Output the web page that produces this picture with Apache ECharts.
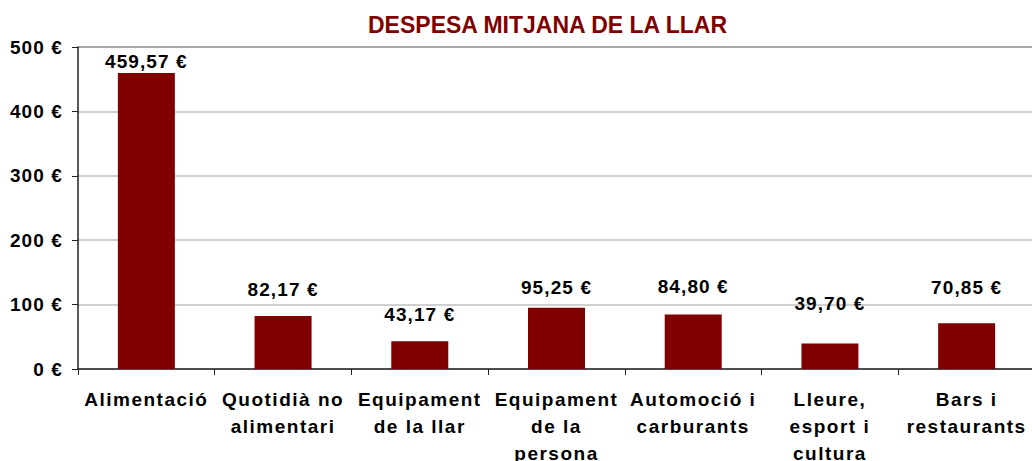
<!DOCTYPE html>
<html>
<head>
<meta charset="utf-8">
<script src="https://cdn.jsdelivr.net/npm/echarts@6/dist/echarts.min.js"></script>
<style>
    html, body { margin: 0; padding: 0; background: #fff; }
    #main { width: 1032px; height: 461px; }
    /* Excel-style wide spacing on the axis and value labels, not on the title */
    #main text { letter-spacing: 1.1px; }
    #main text[style*="sans-serif, Arial"] { letter-spacing: 1.5px; }
    #main text[fill="#800000"], #main text[style*="23px"] { letter-spacing: 0; }
</style>
</head>
<body>
<div id="main"></div>
<script>
var categories = ['Alimentació', 'Quotidià no\nalimentari', 'Equipament\nde la llar', 'Equipament\nde la\npersona',
    'Automoció i\ncarburants', 'Lleure,\nesport i\ncultura', 'Bars i\nrestaurants'];
var values = [459.57, 82.17, 43.17, 95.25, 84.80, 39.70, 70.85];
var yTicks = { min: 0, max: 500, step: 100 };

// hand-placed label gaps, like the original sheet
var labelGaps = [2, 17, 17, 11, 18, 30, 26];

var font = '"Liberation Sans", Arial, sans-serif';
var catFont = '"Liberation Sans", sans-serif, Arial';

function euro(v) {
    return v.toFixed(2).replace('.', ',') + ' €';
}

var myChart = echarts.init(document.getElementById('main'), null, { renderer: 'svg' });
myChart.setOption({
    backgroundColor: '#fff',
    animation: false,
    title: {
        text: 'DESPESA MITJANA DE LA LLAR',
        left: 363,
        top: 8,
        textStyle: { color: '#800000', fontSize: 23, fontWeight: 'bold', fontFamily: font }
    },
    grid: { left: 78, top: 47, width: 957, bottom: 92, outerBoundsMode: 'none' },
    xAxis: {
        type: 'category',
        data: categories,
        axisLine: { lineStyle: { color: '#222', width: 1.5 } },
        axisTick: { show: true, length: 6, lineStyle: { color: '#222' } },
        axisLabel: {
            interval: 0,
            margin: 17,
            color: '#000',
            fontSize: 19,
            fontWeight: 'bold',
            fontFamily: catFont,
            lineHeight: 27
        }
    },
    yAxis: {
        type: 'value',
        min: yTicks.min,
        max: yTicks.max,
        interval: yTicks.step,
        axisLine: { show: true, lineStyle: { color: '#222', width: 1.5 } },
        axisTick: { show: true, length: 6, lineStyle: { color: '#222' } },
        splitLine: {
            lineStyle: { color: ['#c0c0c0', '#c0c0c0', '#c0c0c0', '#c0c0c0', '#c0c0c0', '#8c8c8c'], width: 1.5 }
        },
        axisLabel: {
            margin: 15,
            color: '#000',
            fontSize: 19,
            fontWeight: 'bold',
            fontFamily: font,
            formatter: '{value} €'
        }
    },
    series: [{
        type: 'bar',
        barWidth: 57,
        itemStyle: { color: '#800000' },
        data: values.map(function (v, i) {
            return {
                value: v,
                label: {
                    show: true,
                    position: 'top',
                    distance: labelGaps[i],
                    color: '#000',
                    fontSize: 19,
                    fontWeight: 'bold',
                    fontFamily: font,
                    formatter: function (p) { return euro(p.value); }
                }
            };
        })
    }]
});
</script>
</body>
</html>
